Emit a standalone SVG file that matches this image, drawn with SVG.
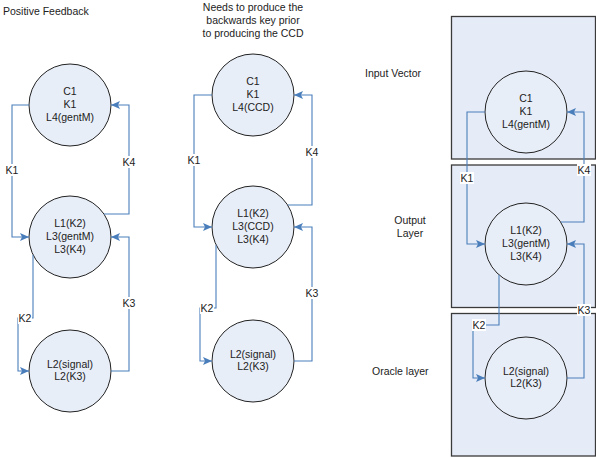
<svg xmlns="http://www.w3.org/2000/svg" width="596" height="458" viewBox="0 0 596 458">
<defs>
<marker id="arr" markerUnits="userSpaceOnUse" markerWidth="10" markerHeight="8" refX="9" refY="4" orient="auto">
<path d="M0,0 L9,4 L0,8 L2,4 Z" fill="#4a7ebb"/>
</marker>
<style>
text{font-family:"Liberation Sans",Arial,sans-serif;font-size:10.5px;fill:#222}
.c{text-anchor:middle}
.node circle{fill:#e8eef8;stroke:#222;stroke-width:1}
.box{fill:#e6ecf7;stroke:#3a3a3a;stroke-width:1.3}
.conn path{fill:none;stroke:#4a7ebb;stroke-width:1.1;marker-end:url(#arr)}
.lbl rect{fill:#fff}
</style>
</defs>
<rect width="596" height="458" fill="#fff"/>

<!-- layer boxes -->
<g id="layers">
<rect class="box" x="451.5" y="16.5" width="144" height="142.5"/>
<rect class="box" x="451.5" y="165" width="144" height="142.5"/>
<rect class="box" x="451.5" y="313.5" width="144" height="142.5"/>
</g>

<!-- titles -->
<text x="3" y="15">Positive Feedback</text>
<text class="c" x="253" y="11">Needs to produce the</text>
<text class="c" x="253" y="24">backwards key prior</text>
<text class="c" x="253" y="37">to producing the CCD</text>
<text x="365" y="77">Input Vector</text>
<text class="c" x="410" y="224">Output</text>
<text class="c" x="410" y="237">Layer</text>
<text x="372" y="375">Oracle layer</text>

<!-- nodes -->
<g id="a1" class="node"><circle cx="70" cy="105" r="41"/><text class="c" x="70" y="95">C1</text><text class="c" x="70" y="108">K1</text><text class="c" x="70" y="121">L4(gentM)</text></g>
<g id="a2" class="node"><circle cx="70" cy="237" r="41"/><text class="c" x="70" y="227">L1(K2)</text><text class="c" x="70" y="240">L3(gentM)</text><text class="c" x="70" y="253">L3(K4)</text></g>
<g id="a3" class="node"><circle cx="70" cy="371" r="41"/><text class="c" x="70" y="368">L2(signal)</text><text class="c" x="70" y="380">L2(K3)</text></g>

<g id="b1" class="node"><circle cx="253" cy="95" r="41"/><text class="c" x="253" y="85">C1</text><text class="c" x="253" y="98">K1</text><text class="c" x="253" y="111">L4(CCD)</text></g>
<g id="b2" class="node"><circle cx="253" cy="227" r="41"/><text class="c" x="253" y="217">L1(K2)</text><text class="c" x="253" y="230">L3(CCD)</text><text class="c" x="253" y="243">L3(K4)</text></g>
<g id="b3" class="node"><circle cx="253" cy="361" r="41"/><text class="c" x="253" y="358">L2(signal)</text><text class="c" x="253" y="370">L2(K3)</text></g>

<g id="c1" class="node"><circle cx="526" cy="112" r="41"/><text class="c" x="526" y="102">C1</text><text class="c" x="526" y="115">K1</text><text class="c" x="526" y="128">L4(gentM)</text></g>
<g id="c2" class="node"><circle cx="526" cy="244" r="41"/><text class="c" x="526" y="234">L1(K2)</text><text class="c" x="526" y="247">L3(gentM)</text><text class="c" x="526" y="260">L3(K4)</text></g>
<g id="c3" class="node"><circle cx="526" cy="378" r="41"/><text class="c" x="526" y="375">L2(signal)</text><text class="c" x="526" y="387">L2(K3)</text></g>

<!-- connectors -->
<g id="connectors" class="conn">
<path d="M29,105 H12 V237 H29"/>
<path d="M104,214 H129 V105 H111"/>
<path d="M33,255 V318 H18 V371 H29"/>
<path d="M111,371 H129 V237 H111"/>

<path d="M212,95 H194 V227 H212"/>
<path d="M288,205 H312 V95 H294"/>
<path d="M216,245 V308 H200 V361 H212"/>
<path d="M294,361 H312 V227 H294"/>

<path d="M485,112 H467 V244 H485"/>
<path d="M561,222 H584 V112 H567"/>
<path d="M499,275 V325 H473 V378 H485"/>
<path d="M567,378 H584 V244 H567"/>
</g>

<!-- connector labels -->
<g id="labels" class="lbl">
<rect x="5" y="164" width="14" height="12"/><text class="c" x="12" y="174">K1</text>
<rect x="122" y="156" width="14" height="12"/><text class="c" x="129" y="166">K4</text>
<rect x="18" y="312" width="14" height="12"/><text class="c" x="25" y="322">K2</text>
<rect x="122" y="297" width="14" height="12"/><text class="c" x="129" y="307">K3</text>

<rect x="187" y="154" width="14" height="12"/><text class="c" x="194" y="164">K1</text>
<rect x="305" y="146" width="14" height="12"/><text class="c" x="312" y="156">K4</text>
<rect x="200" y="302" width="14" height="12"/><text class="c" x="207" y="312">K2</text>
<rect x="305" y="287" width="14" height="12"/><text class="c" x="312" y="297">K3</text>

<rect x="460" y="172" width="14" height="12"/><text class="c" x="467" y="182">K1</text>
<rect x="577" y="164" width="14" height="12"/><text class="c" x="584" y="174">K4</text>
<rect x="472" y="319" width="14" height="12"/><text class="c" x="479" y="329">K2</text>
<rect x="577" y="304" width="14" height="12"/><text class="c" x="584" y="314">K3</text>
</g>
</svg>
